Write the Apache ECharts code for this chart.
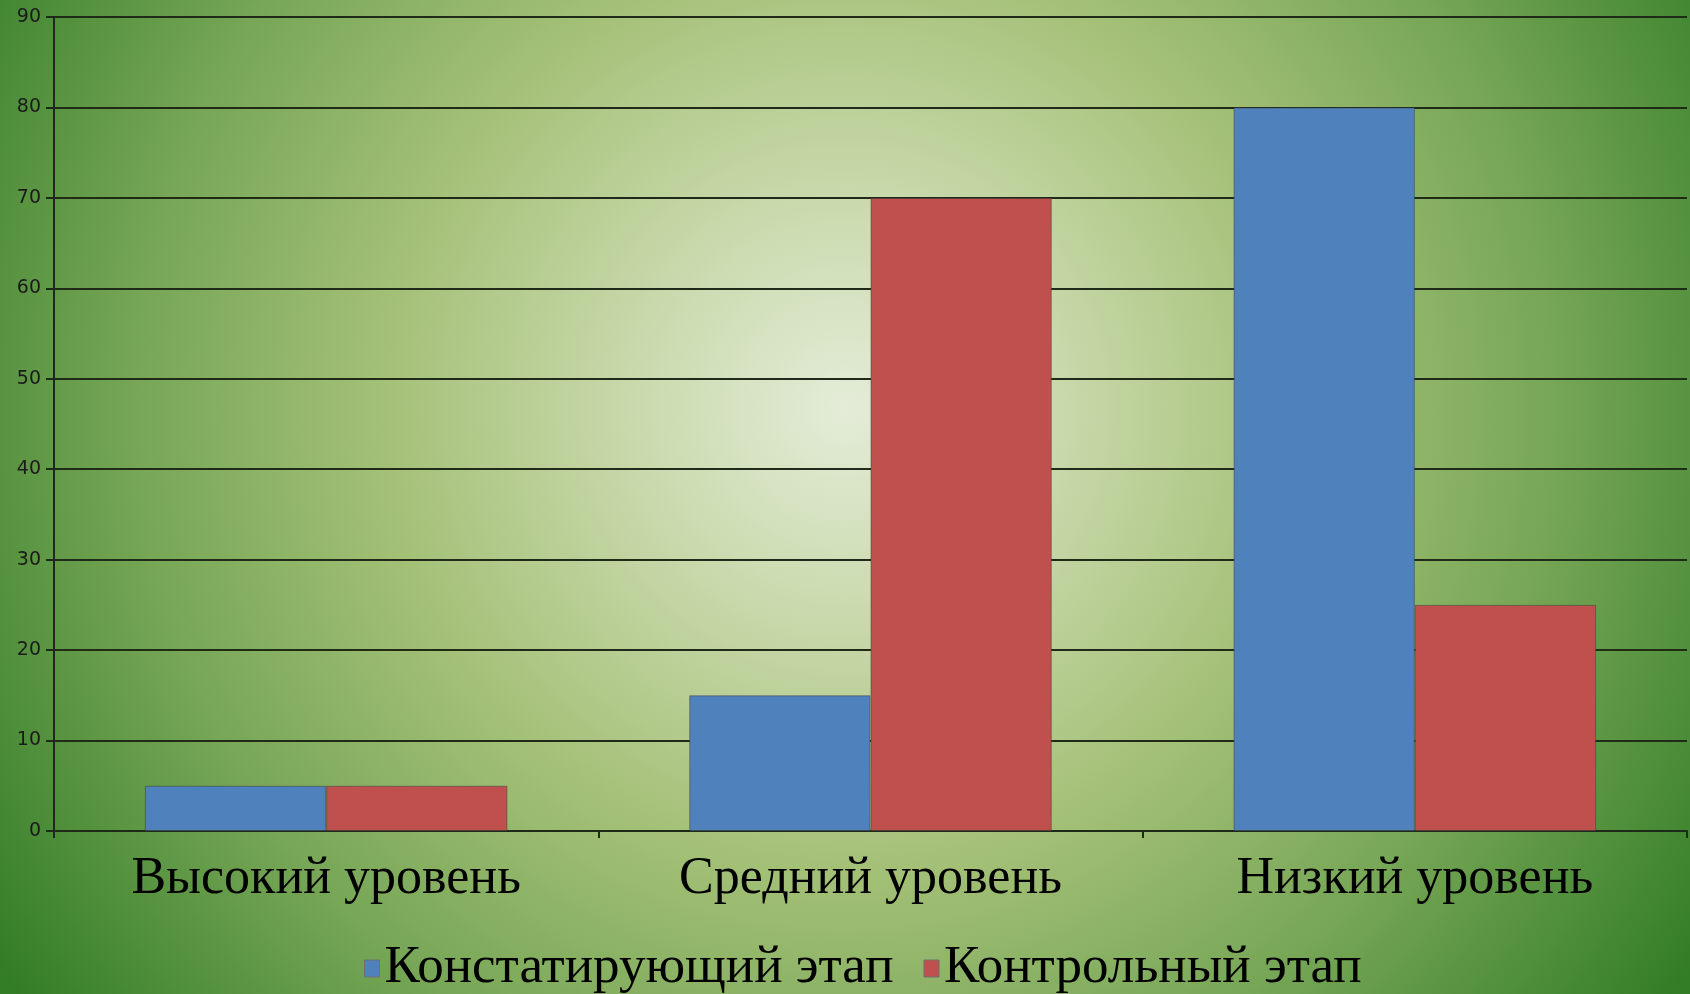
<!DOCTYPE html>
<html>
<head>
<meta charset="utf-8">
<script src="https://cdn.jsdelivr.net/npm/echarts@6/dist/echarts.min.js"></script>
<style>
  html, body { margin: 0; padding: 0; }
  #chart { width: 1690px; height: 994px; }
</style>
</head>
<body>
<div id="chart"></div>
<script>
// Уровни и результаты двух этапов (в процентах)
const categories = ['Высокий уровень', 'Средний уровень', 'Низкий уровень'];
const seriesNames = ['Констатирующий этап', 'Контрольный этап'];
const stage1Values = [5, 15, 80];
const stage2Values = [5, 70, 25];
const yTicks = [0, 10, 20, 30, 40, 50, 60, 70, 80, 90];

const chart = echarts.init(document.getElementById('chart'), null, { renderer: 'canvas' });

const barBorder = { borderColor: 'rgba(60,60,60,0.5)', borderWidth: 1 };

chart.setOption({
  animation: false,
  backgroundColor: new echarts.graphic.RadialGradient(0.5, 0.41, 1.02, [
    { offset: 0, color: '#e4ecd8' },
    { offset: 0.18, color: '#cddcb2' },
    { offset: 0.45, color: '#a5c178' },
    { offset: 0.7, color: '#76a656' },
    { offset: 1, color: '#337d26' }
  ]),
  grid: { left: 54, right: 3, top: 17, bottom: 163, containLabel: false },
  legend: {
    top: 937,
    left: 359,
    itemWidth: 15,
    itemHeight: 17,
    itemGap: 30,
    icon: 'rect',
    textStyle: { fontFamily: 'Liberation Serif', fontSize: 53, color: '#000' },
    data: seriesNames.map(n => ({ name: n, itemStyle: { borderColor: '#6f6f6f', borderWidth: 1 } }))
  },
  xAxis: {
    type: 'category',
    data: categories,
    axisLine: { lineStyle: { color: '#1e2a18', width: 2 } },
    axisTick: { show: true, length: 7, lineStyle: { color: '#1e2a18', width: 2 } },
    axisLabel: { fontFamily: 'Liberation Serif', fontSize: 52, color: '#000', margin: 22 }
  },
  yAxis: {
    type: 'value',
    min: 0,
    max: 90,
    interval: 10,
    axisLine: { show: true, lineStyle: { color: '#1e2a18', width: 2 } },
    axisTick: { show: true, length: 8, lineStyle: { color: '#1e2a18', width: 2 } },
    axisLabel: {
      fontFamily: 'DejaVu Sans', fontSize: 19, color: '#1a1a1a', margin: 13,
      formatter: v => (yTicks.includes(v) ? String(v) : '')
    },
    splitLine: { show: true, lineStyle: { color: '#1f2a18', width: 2 } }
  },
  series: [
    {
      name: seriesNames[0],
      type: 'bar',
      data: stage1Values,
      barGap: '0%',
      barCategoryGap: '33.4%',
      itemStyle: Object.assign({ color: '#4f81bd' }, barBorder)
    },
    {
      name: seriesNames[1],
      type: 'bar',
      data: stage2Values,
      barGap: '0%',
      barCategoryGap: '33.4%',
      itemStyle: Object.assign({ color: '#c0504d' }, barBorder)
    }
  ]
});
</script>
</body>
</html>
